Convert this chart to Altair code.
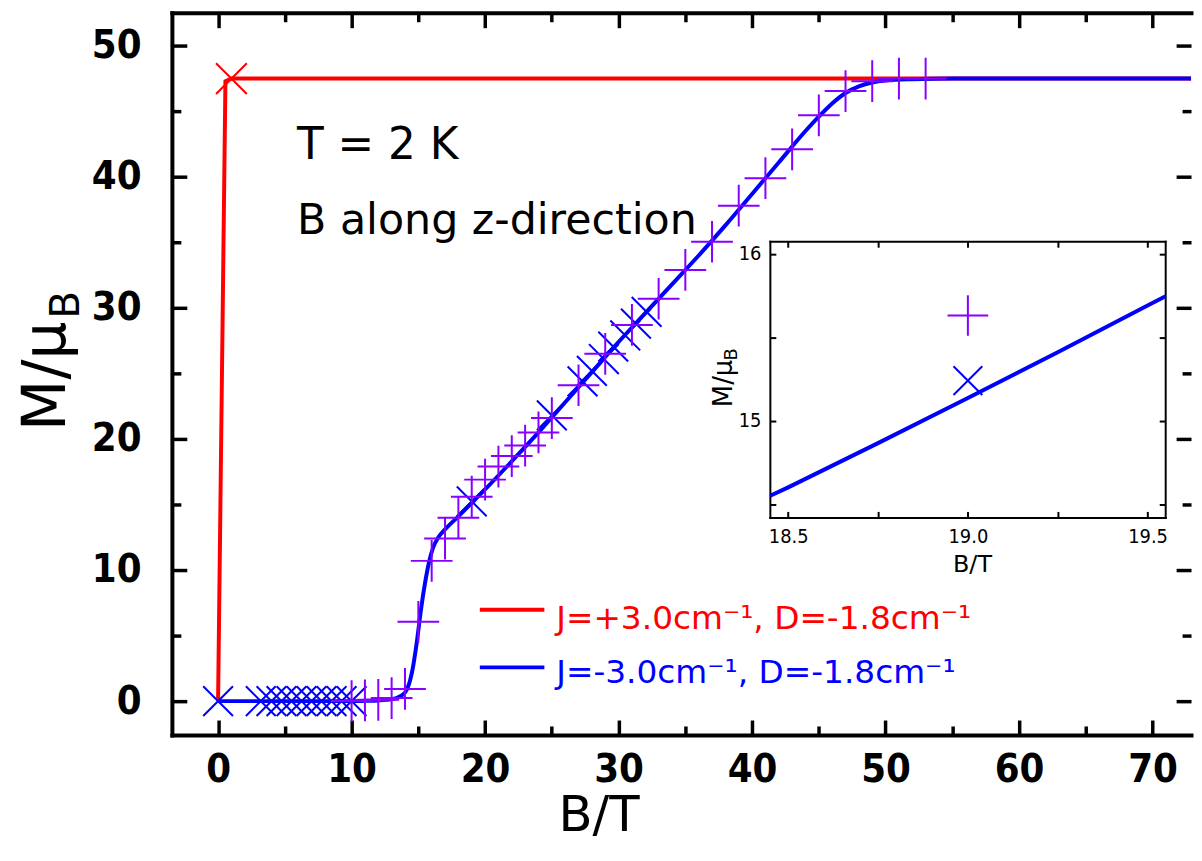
import altair as alt
import pandas as pd

# ---------------- data ----------------
blue_B = [0, 2, 4, 6, 8, 10, 11, 12, 13, 13.5, 14, 14.3, 14.6, 14.9, 15.2, 15.5, 15.8,
          16.1, 16.5, 17, 18, 19, 20, 22, 24, 25, 26, 28, 30, 32, 34, 36, 38, 40, 42,
          44, 45, 46, 47, 48, 49, 50, 52, 55, 60, 65, 70, 73.5]
blue_M = [0, 0, 0, 0, 0, 0, 0.02, 0.05, 0.15, 0.3, 0.65, 1.3, 2.6, 4.6, 7.0, 9.0, 10.6,
          11.7, 12.5, 13.1, 14.1, 15.12, 16.15, 18.3, 20.5, 21.65, 22.8, 25.1, 27.4, 29.6,
          31.8, 34.0, 36.3, 38.7, 41.1, 43.5, 44.6, 45.6, 46.4, 46.9, 47.2, 47.35, 47.45,
          47.5, 47.5, 47.5, 47.5, 47.5]
red_B = [0, 0.55, 1.0, 2.0, 73.5]
red_M = [0, 47.3, 47.5, 47.5, 47.5]
plus_B = [10, 11, 12, 13, 14, 15, 16, 17, 18, 19, 20, 21, 22, 23, 24, 25, 27, 29, 31, 33,
          35, 37, 39, 41, 43, 45, 47, 49, 51, 53]
plus_M = [0.0, 0.05, 0.1, 0.23, 0.93, 6.05, 10.7, 12.4, 14.0, 15.6, 16.9, 17.9, 18.7, 19.5,
          20.5, 21.6, 24.1, 26.5, 28.7, 30.7, 32.9, 35.05, 37.8, 39.9, 42.1, 44.7, 46.55,
          47.3, 47.5, 47.5]
xmark_B = [0, 3.2, 4.0, 4.75, 5.5, 6.25, 7.0, 7.75, 8.5, 9.25, 10.0, 19.0, 25.0, 27.3,
           28.0, 28.9, 29.6, 30.5, 31.3, 32.1]
xmark_M = [0, 0, 0, 0, 0, 0, 0, 0, 0, 0, 0, 15.24, 21.8, 24.4, 25.2, 26.1, 27.05, 27.9,
           28.8, 29.7]
redx_B = [1.0]
redx_M = [47.5]

inset_line_B = [18.45, 18.5, 18.75, 19.0, 19.25, 19.5, 19.55]
inset_line_M = [14.55, 14.60, 14.865, 15.135, 15.41, 15.69, 15.745]
inset_plus_B = [19.0]
inset_plus_M = [15.63]
inset_x_B = [19.0]
inset_x_M = [15.24]

x_major = [0, 10, 20, 30, 40, 50, 60, 70]
x_minor = [5, 15, 25, 35, 45, 55, 65]
y_major = [0, 10, 20, 30, 40, 50]
y_minor = [5, 15, 25, 35, 45]
ix_ticks = [18.5, 18.75, 19.0, 19.25, 19.5]
ix_labels = [18.5, 19.0, 19.5]
iy_ticks = [14.5, 15.0, 15.5, 16.0]
iy_labels = [15, 16]

legend_labels = ["J=+3.0cm\u207b\u00b9, D=-1.8cm\u207b\u00b9",
                 "J=-3.0cm\u207b\u00b9, D=-1.8cm\u207b\u00b9"]

# ---------------- styles ----------------
W, H = 1026, 727
RED, BLUE, PURPLE = "#ff0000", "#0000ff", "#8800ff"
LF = "'DejaVu Sans Condensed', 'Liberation Sans Narrow', 'DejaVu Sans', sans-serif"
TF = "DejaVu Sans"
PLUS = "M-1,0L1,0M0,-1L0,1"
CROSS = "M-1,-1L1,1M-1,1L1,-1"

xs = alt.Scale(domain=[-3.46, 72.88], nice=False, zero=False)
ys = alt.Scale(domain=[-2.58, 52.52], nice=False, zero=False)
ixs = alt.Scale(domain=[18.449, 19.549], range=[602, 1000], nice=False, zero=False)
iys = alt.Scale(domain=[14.42, 16.075], range=[508, 230], nice=False, zero=False)

blue_df = pd.DataFrame({"B": blue_B, "M": blue_M})
red_df = pd.DataFrame({"B": red_B, "M": red_M})
plus_df = pd.DataFrame({"B": plus_B, "M": plus_M})
xm_df = pd.DataFrame({"B": xmark_B, "M": xmark_M})
redx_df = pd.DataFrame({"B": redx_B, "M": redx_M})
il_df = pd.DataFrame({"B": inset_line_B, "M": inset_line_M})
ip_df = pd.DataFrame({"B": inset_plus_B, "M": inset_plus_M})
ixm_df = pd.DataFrame({"B": inset_x_B, "M": inset_x_M})


def enc(sx, sy, xaxis=None, yaxis=None):
    return dict(x=alt.X("B:Q", scale=sx, axis=xaxis),
                y=alt.Y("M:Q", scale=sy, axis=yaxis))


def line(df, color, sx, sy, sw=4, interp="linear"):
    return alt.Chart(df).mark_line(color=color, strokeWidth=sw, clip=True,
                                   interpolate=interp).encode(**enc(sx, sy))


def pts(df, shape, size, color, sx, sy, sw=2):
    return alt.Chart(df).mark_point(shape=shape, size=size, color=color, strokeWidth=sw,
                                    filled=False, opacity=1).encode(**enc(sx, sy))


def axis(orient, values, offset=0, domain=False, ticks=True, tick=15, labels=False,
         dw=4, tw=3.5, lsize=40, lpad=10, lweight="bold", fmt=None):
    kw = dict(orient=orient, values=values, offset=offset, grid=False, title=None,
              domain=domain, domainColor="black", domainWidth=dw, domainCap="square",
              ticks=ticks, tickSize=tick if ticks else 0, tickColor="black", tickWidth=tw,
              labels=labels, labelColor="black", labelFont=LF, labelFontSize=lsize,
              labelFontWeight=lweight, labelPadding=lpad)
    if fmt:
        kw["format"] = fmt
    return alt.Axis(**kw)


def xaxis_layer(df, ax, sx, sy):
    return alt.Chart(df).mark_point(opacity=0).encode(**enc(sx, sy, xaxis=ax))


def yaxis_layer(df, ax, sx, sy):
    return alt.Chart(df).mark_point(opacity=0).encode(**enc(sx, sy, yaxis=ax))


def text(t, x, y, size, color="black", angle=0, align="left", font=TF):
    return alt.Chart(pd.DataFrame({"t": [t]})).mark_text(
        fontSize=size, font=font, color=color, angle=angle, align=align,
        baseline="alphabetic").encode(text="t:N", x=alt.value(x), y=alt.value(y))


def legend_rule(color, y):
    return alt.Chart(pd.DataFrame({"a": [0]})).mark_rule(
        color=color, strokeWidth=4).encode(x=alt.value(310), x2=alt.value(375), y=alt.value(y))


layers = [
    # main axes
    xaxis_layer(blue_df, axis("bottom", x_major, domain=True, ticks=False, labels=True, lpad=15), xs, ys),
    xaxis_layer(blue_df, axis("top", x_major, offset=-H), xs, ys),
    xaxis_layer(blue_df, axis("top", x_minor, offset=-H, tick=9), xs, ys),
    xaxis_layer(blue_df, axis("bottom", x_major, offset=-H, domain=True), xs, ys),
    xaxis_layer(blue_df, axis("bottom", x_minor, offset=-H, tick=9), xs, ys),
    yaxis_layer(blue_df, axis("left", y_major, domain=True, ticks=False, labels=True, lpad=31), xs, ys),
    yaxis_layer(blue_df, axis("right", y_major, offset=-W), xs, ys),
    yaxis_layer(blue_df, axis("right", y_minor, offset=-W, tick=9), xs, ys),
    yaxis_layer(blue_df, axis("left", y_major, offset=-W), xs, ys),
    yaxis_layer(blue_df, axis("left", y_minor, offset=-W, tick=9), xs, ys),
    # inset axes
    xaxis_layer(il_df, axis("bottom", ix_labels, offset=-219, domain=True, ticks=False, labels=True,
                            dw=2, lsize=20, lpad=9, lweight="normal", fmt=".1f"), ixs, iys),
    xaxis_layer(il_df, axis("top", ix_ticks, offset=-508, tick=6, tw=2), ixs, iys),
    xaxis_layer(il_df, axis("bottom", ix_ticks, offset=-497, domain=True, dw=2, tick=6, tw=2), ixs, iys),
    yaxis_layer(il_df, axis("left", iy_labels, offset=-602, domain=True, ticks=False, labels=True,
                            dw=2, lsize=20, lpad=9, lweight="normal"), ixs, iys),
    yaxis_layer(il_df, axis("right", iy_ticks, offset=-424, tick=6, tw=2), ixs, iys),
    yaxis_layer(il_df, axis("left", iy_ticks, offset=-1000, domain=True, dw=2, tick=6, tw=2), ixs, iys),
    # main data
    line(red_df, RED, xs, ys, sw=4),
    line(blue_df, BLUE, xs, ys, sw=4, interp="monotone"),
    pts(xm_df, CROSS, 900, BLUE, xs, ys, sw=2),
    pts(plus_df, PLUS, 1764, PURPLE, xs, ys, sw=2),
    pts(redx_df, CROSS, 961, RED, xs, ys, sw=2),
    # inset data
    line(il_df, BLUE, ixs, iys, sw=4),
    pts(ip_df, PLUS, 1681, PURPLE, ixs, iys, sw=2),
    pts(ixm_df, CROSS, 841, BLUE, ixs, iys, sw=2),
    # annotations
    text("T = 2 K", 126, 147, 44),
    text("B along z-direction", 126, 223, 43),
    legend_rule(RED, 601),
    legend_rule(BLUE, 659),
    text(legend_labels[0], 387, 620, 33, color=RED),
    text(legend_labels[1], 387, 675, 33, color=BLUE),
    # axis titles
    text("B/T", 430, 824, 50, align="center"),
    text("M/\u03bc", -108, 421, 60, angle=270),
    text("B", -94, 308, 41, angle=270),
    text("B/T", 806, 563, 24, align="center"),
    text("M/\u03bc", 564, 397, 26, angle=270),
    text("B", 569, 350, 18, angle=270),
]

chart = alt.layer(*layers).resolve_scale(x="independent", y="independent").resolve_axis(
    x="independent", y="independent").properties(
    width=W, height=H, autosize=alt.AutoSizeParams(type="none"),
    padding={"left": 165, "top": 2, "right": 3, "bottom": 110},
    background="white").configure_view(stroke=None)

chart.save("out.html", embed_options={"renderer": "svg", "actions": False})
